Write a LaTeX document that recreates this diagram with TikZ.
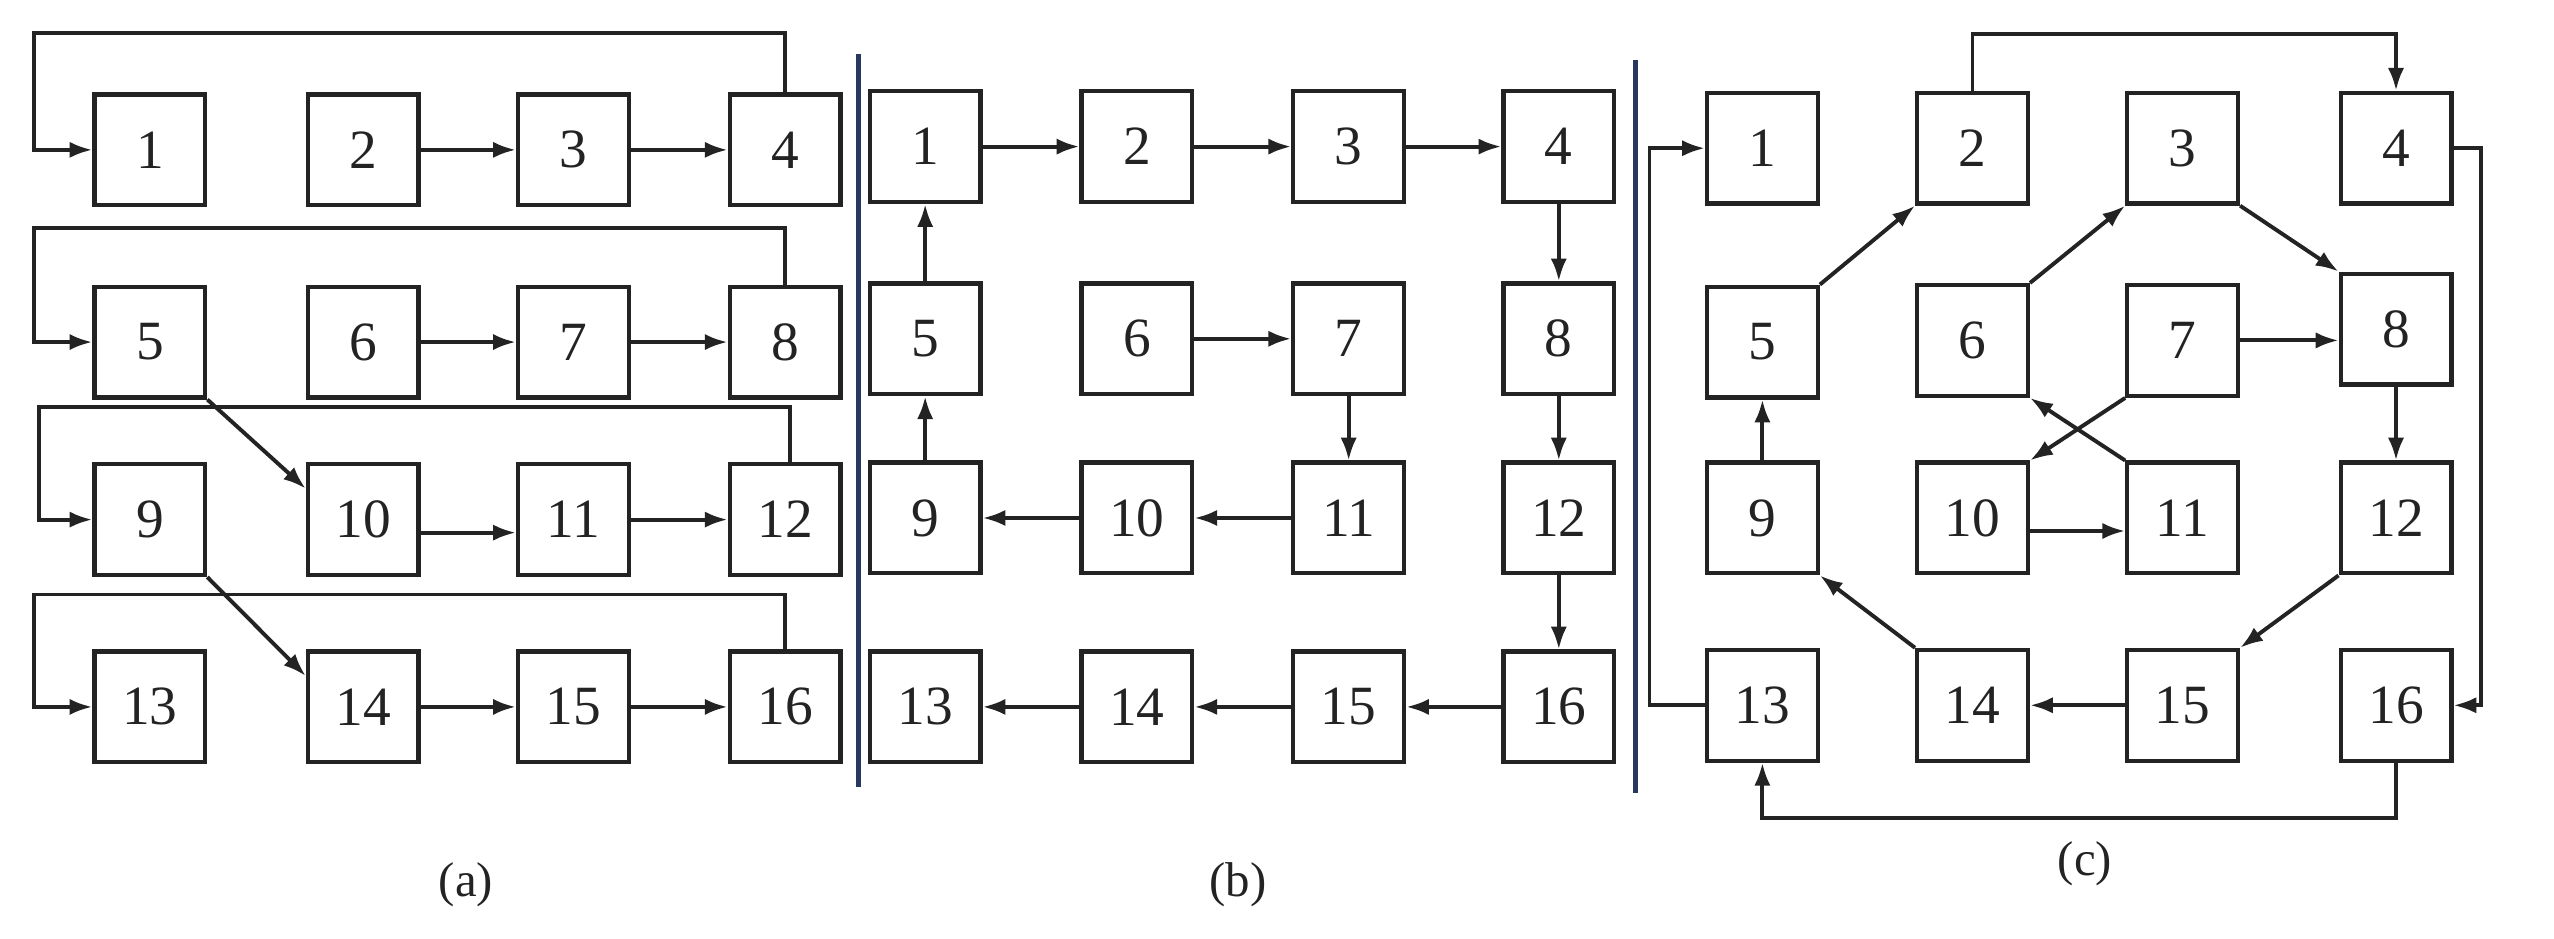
\documentclass[tikz,border=0pt]{standalone}
\usepackage{fontspec}
\setmainfont{Liberation Serif}
\usetikzlibrary{arrows.meta}
\definecolor{sep}{RGB}{40,55,95}
\definecolor{ink}{RGB}{35,35,35}
\begin{document}
\begin{tikzpicture}[x=1pt,y=-1pt,
  box/.style={draw=ink,line width=2.6pt,minimum width=68pt,minimum height=68pt,inner sep=0pt,font=\fontsize{34}{36}\selectfont,text=ink},
  arr/.style={draw=ink,line width=2.4pt,-{Latex[length=14pt,width=10pt]}},
  lab/.style={font=\fontsize{30}{32}\selectfont,text=ink}]
\useasboundingbox (0,0) rectangle (1568,576);
% panel (a)
\foreach \n/\x/\y in {1/92/92,2/223/92,3/352/92,4/482/92,5/92/210,6/223/210,7/352/210,8/482/210,9/92/319,10/223/319,11/352/319,12/482/319,13/92/434,14/223/434,15/352/434,16/482/434}
  \node[box] (a\n) at (\x,\y) {\n};
\draw[arr] (a2) -- (a3); \draw[arr] (a3) -- (a4);
\draw[arr] (a6) -- (a7); \draw[arr] (a7) -- (a8);
\draw[arr] ([yshift=-8pt]a10.east) -- ([yshift=-8pt]a11.west);
\draw[arr] (a11) -- (a12);
\draw[arr] (a14) -- (a15); \draw[arr] (a15) -- (a16);
\draw[arr] (a5.south east) -- ([yshift=19pt]a10.west);
\draw[arr] (a9.south east) -- ([yshift=19pt]a14.west);
\draw[arr] (a4.north) |- ([xshift=-36pt,yshift=72pt]a1.west) |- (a1.west);
\draw[arr] (a8.north) |- ([xshift=-36pt,yshift=70pt]a5.west) |- (a5.west);
\draw[arr] ([xshift=3pt]a12.north) |- ([xshift=-33pt,yshift=69pt]a9.west) |- (a9.west);
\draw[arr] (a16.north) |- ([xshift=-36pt,yshift=69pt]a13.west) |- (a13.west);
\node[lab] (la) at (286,543) {(a)};
% separators
\coordinate (s1t) at (527,33); \coordinate (s1b) at (527,483);
\coordinate (s2t) at (1004,37); \coordinate (s2b) at (1004,487);
\draw[sep,line width=2.8pt] (s1t) -- (s1b);
\draw[sep,line width=2.8pt] (s2t) -- (s2b);
% panel (b)
\foreach \n/\x/\y in {1/568/90,2/698/90,3/828/90,4/957/90,5/568/208,6/698/208,7/828/208,8/957/208,9/568/318,10/698/318,11/828/318,12/957/318,13/568/434,14/698/434,15/828/434,16/957/434}
  \node[box] (b\n) at (\x,\y) {\n};
\draw[arr] (b1) -- (b2); \draw[arr] (b2) -- (b3); \draw[arr] (b3) -- (b4);
\draw[arr] (b4) -- (b8); \draw[arr] (b8) -- (b12); \draw[arr] (b12) -- (b16);
\draw[arr] (b16) -- (b15); \draw[arr] (b15) -- (b14); \draw[arr] (b14) -- (b13);
\draw[arr] (b9) -- (b5); \draw[arr] (b5) -- (b1);
\draw[arr] (b6) -- (b7); \draw[arr] (b7) -- (b11); \draw[arr] (b11) -- (b10); \draw[arr] (b10) -- (b9);
\node[lab] (lb) at (760,543) {(b)};
% panel (c)
\foreach \n/\x/\y in {1/1082/91,2/1211/91,3/1340/91,4/1471/91,5/1082/210,6/1211/209,7/1340/209,8/1471/202,9/1082/318,10/1211/318,11/1340/318,12/1471/318,13/1082/433,14/1211/433,15/1340/433,16/1471/433}
  \node[box] (c\n) at (\x,\y) {\n};
\draw[arr] (c2.north) |- ([yshift=35pt]c4.north) -- (c4.north);
\draw[arr] (c4.east) -- ([xshift=17pt]c4.east) |- (c16.east);
\draw[arr] (c16.south) -- ([yshift=-34pt]c16.south) -| (c13.south);
\draw[arr] (c13.west) -- ([xshift=-34pt]c13.west) |- (c1.west);
\draw[arr] (c9) -- (c5);
\draw[arr] (c5.north east) -- (c2.south west);
\draw[arr] (c6.north east) -- (c3.south west);
\draw[arr] (c3.south east) -- (c8.north west);
\draw[arr] (c7.east) -- (c8.west |- c7.east);
\draw[arr] (c8) -- (c12);
\draw[arr] (c12.south west) -- (c15.north east);
\draw[arr] (c15) -- (c14);
\draw[arr] (c14.north west) -- (c9.south east);
\draw[arr] ([yshift=-8pt]c10.east) -- ([yshift=-8pt]c11.west);
\draw[arr] (c7.south west) -- (c10.north east);
\draw[arr] (c11.north west) -- (c6.south east);
\node[lab] (lc) at (1280,530) {(c)};
\end{tikzpicture}
\end{document}
